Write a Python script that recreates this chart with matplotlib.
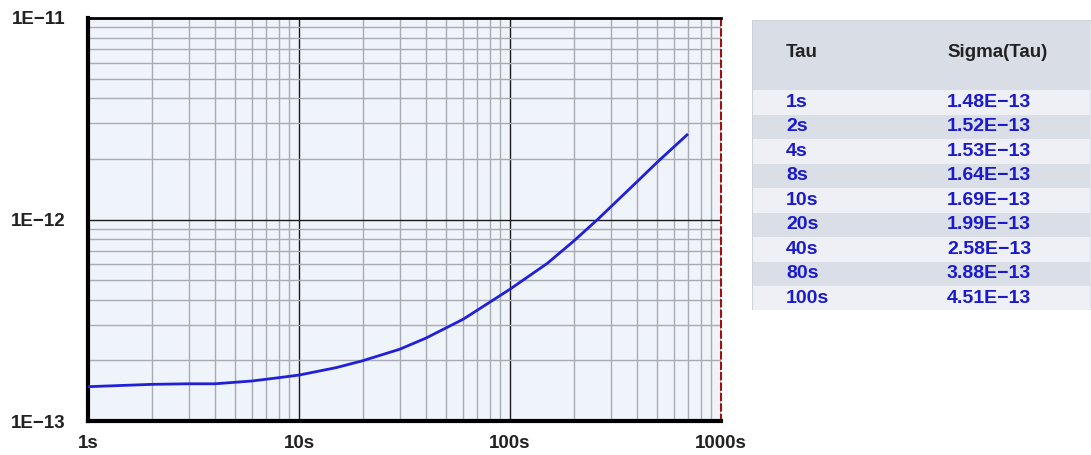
import numpy as np
import matplotlib
matplotlib.use("Agg")
from matplotlib import pyplot as plt
from matplotlib.patches import Rectangle
from matplotlib.ticker import FixedLocator, LogLocator, NullFormatter

plt.rcParams['font.family'] = ['Liberation Sans', 'DejaVu Sans']

# curve (tau in s, sigma)
tau = [1, 2, 3, 4, 6, 8, 10, 15, 20, 30, 40, 60, 80, 100,
       150, 200, 260, 330, 400, 500, 690]
sigma = [1.48e-13, 1.52e-13, 1.53e-13, 1.53e-13, 1.58e-13, 1.64e-13, 1.69e-13,
         1.84e-13, 1.99e-13, 2.27e-13, 2.58e-13, 3.2e-13, 3.88e-13, 4.51e-13,
         6.05e-13, 7.8e-13, 1.0e-12, 1.27e-12, 1.54e-12, 1.93e-12, 2.63e-12]

# table on the right
table_tau = ["1s", "2s", "4s", "8s", "10s", "20s", "40s", "80s", "100s"]
table_sigma = ["1.48E\u221213", "1.52E\u221213", "1.53E\u221213", "1.64E\u221213",
               "1.69E\u221213", "1.99E\u221213", "2.58E\u221213", "3.88E\u221213",
               "4.51E\u221213"]

x_ticks = [1, 10, 100, 1000]
x_labels = ["1s", "10s", "100s", "1000s"]
y_ticks = [1e-13, 1e-12, 1e-11]
y_labels = ["1E\u221213", "1E\u221212", "1E\u221211"]

W, H = 1091, 455
fig = plt.figure(figsize=(W / 100, H / 100), dpi=100)

ax = fig.add_axes([88 / W, 1 - 421 / H, (721 - 88) / W, (421 - 18) / H])
ax.set_facecolor('#eff3fa')
ax.set_xscale('log')
ax.set_yscale('log')
ax.set_xlim(1, 1000)
ax.set_ylim(1e-13, 1e-11)

ax.xaxis.set_major_locator(FixedLocator(x_ticks))
ax.yaxis.set_major_locator(FixedLocator(y_ticks))
ax.set_xticklabels(x_labels)
ax.set_yticklabels(y_labels)
ax.xaxis.set_minor_locator(LogLocator(base=10, subs=np.arange(2, 10)))
ax.yaxis.set_minor_locator(LogLocator(base=10, subs=np.arange(2, 10)))
ax.xaxis.set_minor_formatter(NullFormatter())
ax.yaxis.set_minor_formatter(NullFormatter())
ax.tick_params(which='both', length=0)
ax.tick_params(axis='x', pad=10, labelsize=13.5, labelcolor='#222222')
ax.tick_params(axis='y', pad=16, labelsize=13.5, labelcolor='#222222')
for lab in ax.get_xticklabels() + ax.get_yticklabels():
    lab.set_fontweight('bold')

ax.grid(which='minor', color='#a8acb2', linewidth=1.0)
ax.grid(which='major', color='#1a1a1a', linewidth=1.0)
ax.set_axisbelow(True)

ax.plot(tau, sigma, color='#2020d8', linewidth=2.0, zorder=3)

ax.spines['left'].set_linewidth(3)
ax.spines['bottom'].set_linewidth(3)
ax.spines['top'].set_linewidth(2)
ax.spines['right'].set_color('#a01010')
ax.spines['right'].set_linestyle((0, (3, 2)))
ax.spines['right'].set_linewidth(1.5)
for s in ['left', 'bottom', 'top']:
    ax.spines[s].set_color('black')

# table panel, pixel coordinates inside the panel
tx0, tx1, ty0, ty1 = 752, 1091, 20, 310
tab = fig.add_axes([tx0 / W, 1 - ty1 / H, (tx1 - tx0) / W, (ty1 - ty0) / H])
tab.set_xlim(tx0, tx1)
tab.set_ylim(ty1, ty0)
tab.axis('off')
tab.add_patch(Rectangle((tx0, ty0), tx1 - tx0, ty1 - ty0,
                        facecolor='#e6e9ef', edgecolor='#cdd2da', linewidth=1))
tab.add_patch(Rectangle((tx0 + 1, ty0 + 1), tx1 - tx0 - 2, 69,
                        facecolor='#d9dee6', edgecolor='none'))
tab.text(786, 52, "Tau", fontsize=13.5, fontweight='bold', color='#222222',
         va='center', ha='left')
tab.text(947, 52, "Sigma(Tau)", fontsize=13.5, fontweight='bold', color='#222222',
         va='center', ha='left')

row_h = 24.5
row_top = 90
for i, (t, s) in enumerate(zip(table_tau, table_sigma)):
    y = row_top + i * row_h
    color = '#eef0f5' if i % 2 == 0 else '#dadee6'
    tab.add_patch(Rectangle((tx0 + 1, y), tx1 - tx0 - 2, row_h,
                            facecolor=color, edgecolor='none'))
    yc = y + row_h / 2
    tab.text(786, yc, t, fontsize=14, fontweight='bold', color='#1a1acc',
             va='center', ha='left')
    tab.text(947, yc, s, fontsize=14, fontweight='bold', color='#1a1acc',
             va='center', ha='left')

fig.savefig('out.png', dpi=100)
